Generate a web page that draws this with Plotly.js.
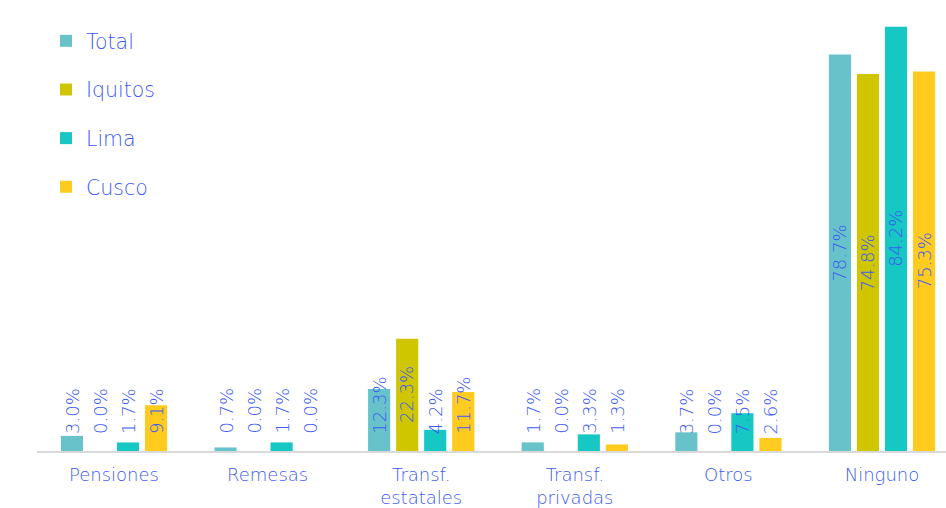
<!DOCTYPE html>
<html>
<head>
<meta charset="utf-8">
<script src="https://cdn.plot.ly/plotly-3.0.1.min.js"></script>
<style>
  html, body { margin: 0; padding: 0; background: #ffffff; }
  #chart { width: 946px; height: 508px; }
</style>
</head>
<body>
<div id="chart"></div>
<script>
// ---- data ----
const categories = ["Pensiones", "Remesas", "Transf.<br>estatales", "Transf.<br>privadas", "Otros", "Ninguno"];
const seriesNames = ["Total", "Iquitos", "Lima", "Cusco"];
const totalValues   = [3.0, 0.7, 12.3, 1.7, 3.7, 78.7];
const iquitosValues = [0.0, 0.0, 22.3, 0.0, 0.0, 74.8];
const limaValues    = [1.7, 1.7, 4.2, 3.3, 7.5, 84.2];
const cuscoValues   = [9.1, 0.0, 11.7, 1.3, 2.6, 75.3];

// ---- styles ----
const seriesValues = [totalValues, iquitosValues, limaValues, cuscoValues];
const colors = ["#67c3c9", "#cfc600", "#17c7c3", "#ffcb1f"];
const FONT = "'DejaVu Sans', sans-serif";
const BLUE = "#3c5af2";
const W = 200;

const bargap = 0.27, bargroupgap = 0.21;
const yMax = 89.5;
const marginL = 37, marginT = 0, marginB = 57;
const plotH = 508 - marginT - marginB;
const plotW = 946 - marginL;
const pxPerUnit = plotH / yMax;

const traces = seriesNames.map((name, i) => ({
  type: "bar",
  name: name,
  x: categories,
  y: seriesValues[i],
  marker: { color: colors[i] },
  legendgroup: "g" + i,
  hoverinfo: "skip"
}));

// value labels (rotated) placed via the axes
const nS = seriesNames.length;
const slot = (1 - bargap) / nS;
const annotations = [];
seriesValues.forEach((vals, i) => {
  const off = -(1 - bargap) / 2 + slot * (i + 0.5);
  vals.forEach((v, j) => {
    const txt = v.toFixed(1) + "%";
    const estLen = txt.length * 10.5;
    const halfPx = v * pxPerUnit / 2;
    const centered = halfPx > 18 + estLen / 2;
    annotations.push({
      xref: "x", yref: "y",
      x: j + off,
      y: centered ? v / 2 : 0,
      yanchor: centered ? "middle" : "bottom",
      xanchor: "center",
      yshift: centered ? 0 : 15,
      text: txt,
      textangle: -90,
      showarrow: false,
      font: { family: FONT, size: 18, color: BLUE, weight: W }
    });
  });
});

const layout = {
  width: 946, height: 508,
  margin: { l: marginL, r: 0, t: marginT, b: marginB, pad: 0 },
  paper_bgcolor: "#ffffff",
  plot_bgcolor: "#ffffff",
  barmode: "group",
  bargap: bargap,
  bargroupgap: bargroupgap,
  font: { family: FONT, color: BLUE, size: 18, weight: W },
  showlegend: true,
  legend: {
    xref: "paper", yref: "paper",
    x: (46 - marginL) / plotW, y: 1 - 21 / plotH,
    xanchor: "left", yanchor: "top",
    traceorder: "grouped",
    tracegroupgap: 19,
    itemwidth: 30,
    font: { family: FONT, size: 20.5, color: BLUE, weight: W },
    bgcolor: "rgba(0,0,0,0)"
  },
  xaxis: {
    type: "category",
    range: [-0.5013, 5.4167],
    showline: true, linecolor: "#d9d9d9", linewidth: 2,
    showgrid: false, zeroline: false,
    ticks: "",
    ticklabelstandoff: 6,
    tickfont: { family: FONT, size: 18, color: BLUE, weight: W },
    fixedrange: true
  },
  yaxis: {
    range: [0, yMax],
    visible: false,
    showgrid: false, zeroline: false,
    fixedrange: true
  },
  annotations: annotations
};

Plotly.newPlot("chart", traces, layout, { displayModeBar: false, staticPlot: true });
</script>
</body>
</html>
